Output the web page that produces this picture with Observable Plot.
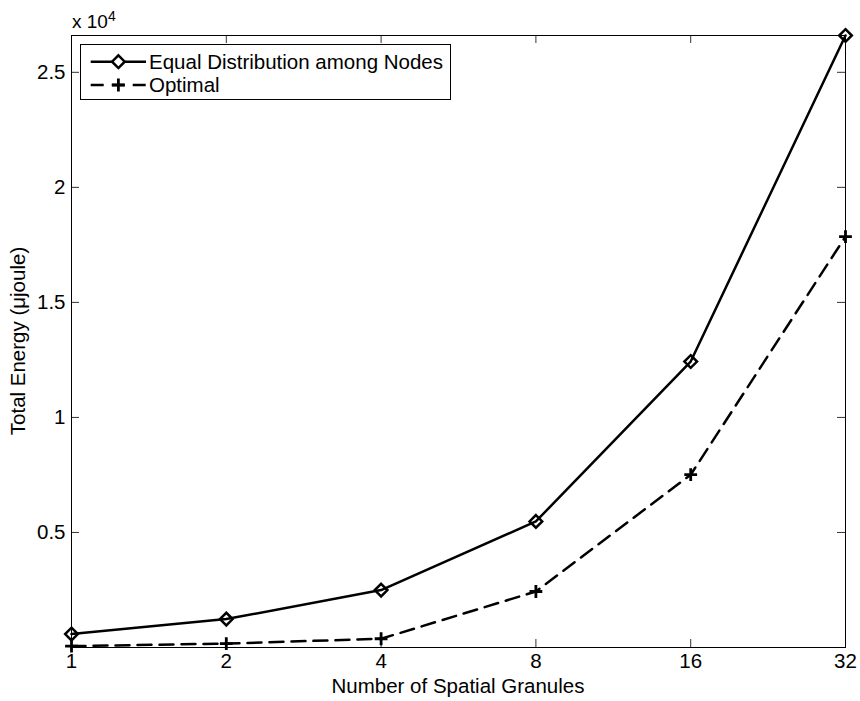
<!DOCTYPE html>
<html><head><meta charset="utf-8">
<script src="https://cdn.jsdelivr.net/npm/d3@7"></script>
<script src="https://cdn.jsdelivr.net/npm/@observablehq/plot@0.6"></script>
<style>body{margin:0;background:#fff}</style>
</head><body><div id="chart"></div>
<script>
const granules = [1, 2, 4, 8, 16, 32];
const equalEnergy = [585, 1235, 2495, 5480, 12430, 26600];
const optimalEnergy = [60, 170, 380, 2435, 7510, 17860];
const yTicks = [5000, 10000, 15000, 20000, 25000];
const yTickLabels = ["0.5", "1", "1.5", "2", "2.5"];
const seriesNames = ["Equal Distribution among Nodes", "Optimal"];
const xLabel = "Number of Spatial Granules";
const yLabel = "Total Energy (\u03BCjoule)";

const W = 860, H = 701, mL = 71, mR = 15, mT = 35, mB = 54;
const fw = W - mL - mR, fh = H - mT - mB, tick = 8;
const font = "'Liberation Sans', Arial, Helvetica, sans-serif";

const equalRows = granules.map((g, i) => ({g, v: equalEnergy[i]}));
const optimalRows = granules.map((g, i) => ({g, v: optimalEnergy[i]}));

const plot = Plot.plot({
  width: W, height: H,
  marginLeft: mL, marginRight: mR, marginTop: mT, marginBottom: mB,
  style: {fontFamily: font, fontSize: "20.5px", color: "#000", background: "#fff"},
  x: {type: "log", base: 2, domain: [1, 32]},
  y: {domain: [0, 26600]},
  marks: [
    Plot.tickY(yTicks, {y: d => d, insetRight: fw - tick, stroke: "#333"}),
    Plot.tickY(yTicks, {y: d => d, insetLeft: fw - tick, stroke: "#333"}),
    Plot.tickX(granules.slice(1, -1), {x: d => d, insetTop: fh - tick, stroke: "#333"}),
    Plot.tickX(granules.slice(1, -1), {x: d => d, insetBottom: fh - tick, stroke: "#333"}),
    Plot.axisY({ticks: yTicks, tickSize: 0, tickPadding: 6, tickFormat: d => yTickLabels[yTicks.indexOf(d)], label: null}),
    Plot.axisX({ticks: granules, tickSize: 0, tickPadding: 6, tickFormat: d => String(d), label: null}),
    Plot.frame({stroke: "#000"}),
    Plot.line(equalRows, {x: "g", y: "v", stroke: "#000", strokeWidth: 2.5}),
    Plot.line(optimalRows, {x: "g", y: "v", stroke: "#000", strokeWidth: 2.5, strokeDasharray: "14,8"}),
    Plot.dot(equalRows, {x: "g", y: "v", symbol: "diamond2", r: 5.7, stroke: "#000", strokeWidth: 2.5, fill: "none"}),
    Plot.dot(optimalRows, {x: "g", y: "v", symbol: "plus", r: 4.2, stroke: "#000", strokeWidth: 2.8})
  ]
});
document.getElementById("chart").appendChild(plot);

const svg = d3.select(plot);
// axis labels
svg.append("text").attr("x", (mL + W - mR) / 2).attr("y", 693).attr("text-anchor", "middle")
  .attr("font-family", font).attr("font-size", 20.5).attr("fill", "#000").text(xLabel);
svg.append("text").attr("transform", `translate(25,${(mT + H - mB) / 2}) rotate(-90)`).attr("text-anchor", "middle")
  .attr("font-family", font).attr("font-size", 20.5).attr("fill", "#000").text(yLabel);
// exponent
const ex = svg.append("text").attr("x", 72).attr("y", 28).attr("text-anchor", "start")
  .attr("font-family", font).attr("font-size", 19).attr("fill", "#000");
ex.append("tspan").text("x 10");
ex.append("tspan").attr("font-size", 14).attr("dy", -7).text("4");

// legend
const lg = svg.append("g");
lg.append("rect").attr("x", 80.5).attr("y", 44.5).attr("width", 370).attr("height", 55)
  .attr("fill", "#fff").attr("stroke", "#000").attr("stroke-width", 1);
const rows = [
  {y: 61.7, base: 68.5, dash: null, sym: d3.symbolDiamond2, size: Math.PI * 5.7 * 5.7, sw: 2.5, name: seriesNames[0]},
  {y: 85, base: 92, dash: "13,8", sym: d3.symbolPlus, size: Math.PI * 4.2 * 4.2, sw: 2.8, name: seriesNames[1]}
];
rows.forEach(r => {
  lg.append("line").attr("x1", 90.7).attr("x2", 146).attr("y1", r.y).attr("y2", r.y)
    .attr("stroke", "#000").attr("stroke-width", 2.5).attr("stroke-dasharray", r.dash);
  lg.append("path").attr("d", d3.symbol(r.sym, r.size)()).attr("transform", `translate(118.4,${r.y})`)
    .attr("fill", "#fff").attr("stroke", "#000").attr("stroke-width", r.sw);
  lg.append("text").attr("x", 149).attr("y", r.base).attr("text-anchor", "start").attr("font-family", font).attr("font-size", 20.5)
    .attr("fill", "#000").text(r.name);
});
</script>
</body></html>
